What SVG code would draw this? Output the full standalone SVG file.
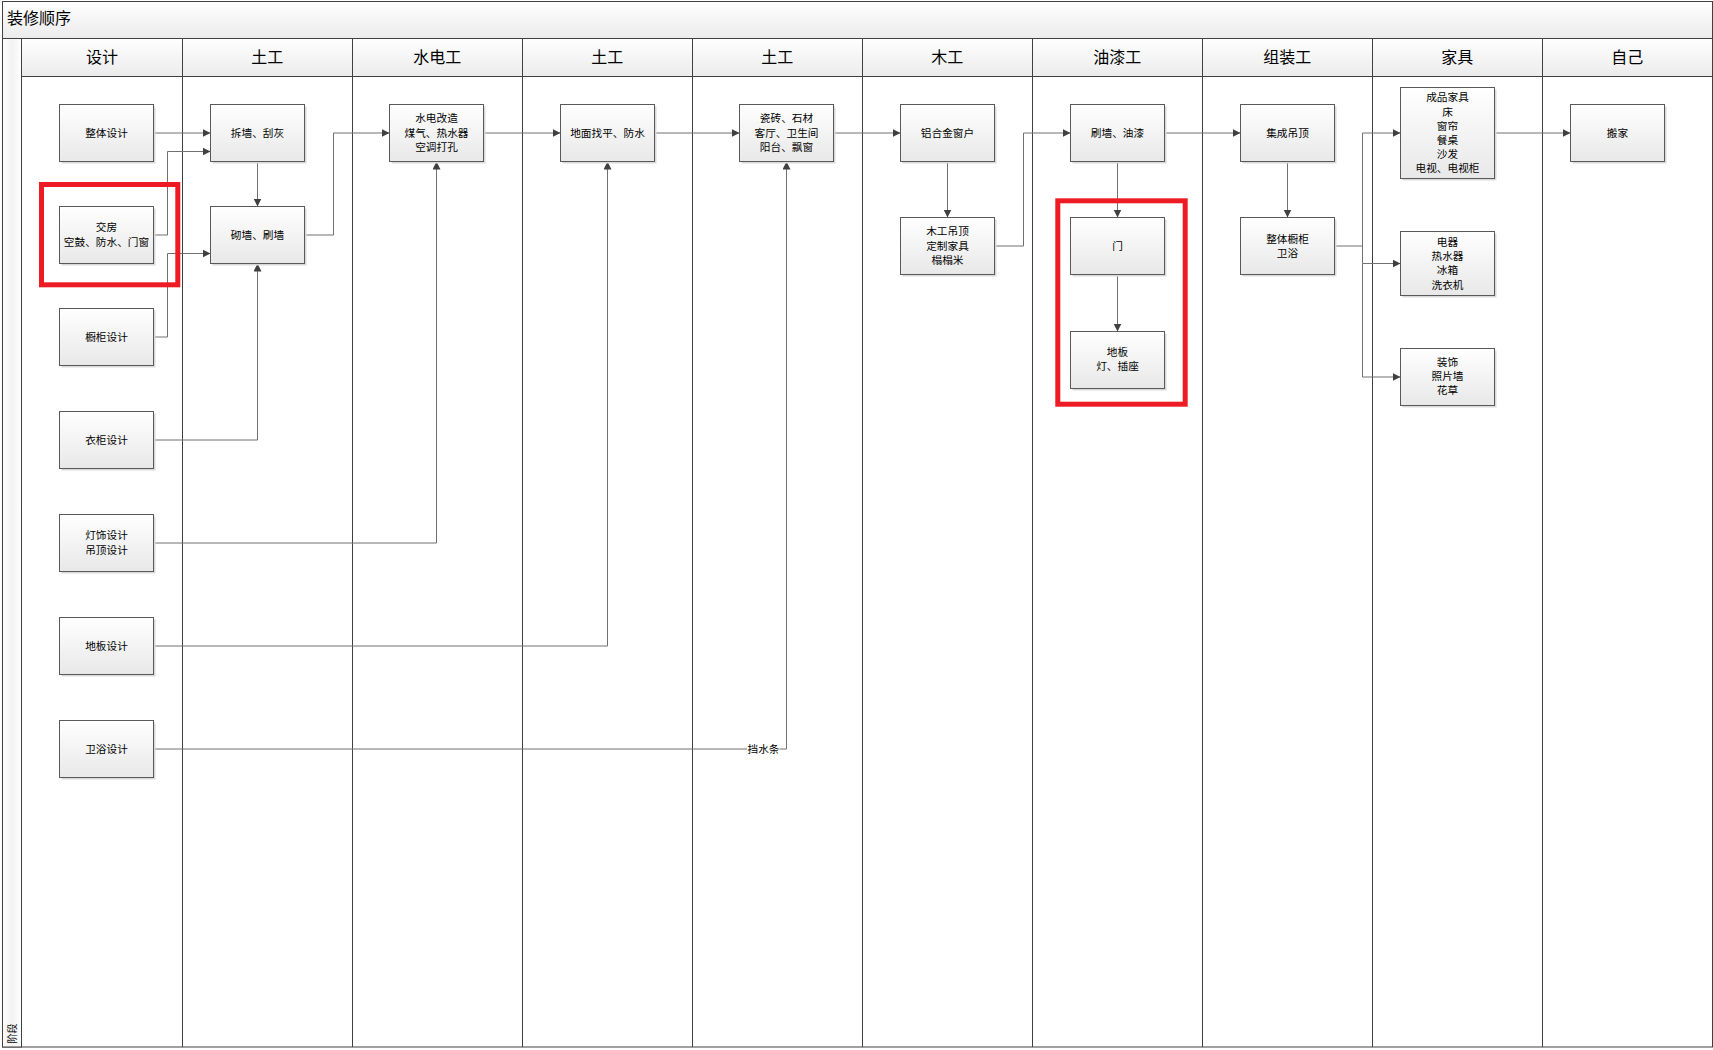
<svg xmlns="http://www.w3.org/2000/svg" width="1713" height="1050" viewBox="0 0 1713 1050">
<defs>
<linearGradient id="gNode" x1="0" y1="0" x2="0" y2="1"><stop offset="0" stop-color="#ffffff"/><stop offset="1" stop-color="#e8e8e8"/></linearGradient>
<linearGradient id="gHead" x1="0" y1="0" x2="0" y2="1"><stop offset="0" stop-color="#ffffff"/><stop offset="1" stop-color="#ebebeb"/></linearGradient>
<linearGradient id="gStrip" x1="0" y1="0" x2="1" y2="0"><stop offset="0" stop-color="#ffffff"/><stop offset="0.5" stop-color="#f2f2f2"/><stop offset="1" stop-color="#ffffff"/></linearGradient>
<marker id="arr" markerUnits="userSpaceOnUse" markerWidth="9" markerHeight="9" refX="8" refY="4" orient="auto"><path d="M0,0 L8,4 L0,8 z" fill="#404040"/></marker>
</defs>
<style>
text{font-family:"Noto Sans CJK SC","Noto Sans",sans-serif;fill:#000}
.t{font-size:10.67px;text-anchor:middle}
.h{font-size:16px;text-anchor:middle}
.ttl{font-size:16px}
.box{fill:url(#gNode);stroke:#595959;stroke-width:1}
.sh{fill:#d9d9d9}
.lane{stroke:#404040;stroke-width:1;fill:none}
.c{fill:none;stroke:#707070;stroke-width:1}
.ca{fill:none;stroke:#707070;stroke-width:1;marker-end:url(#arr)}
.red{fill:none;stroke:#ed1c24;stroke-width:5}
</style>
<g id="pool">
<rect x="2.5" y="1.5" width="1710" height="1045.5" fill="#ffffff" class="lane"/>
<rect x="2.5" y="1.5" width="1710" height="37" fill="url(#gHead)" class="lane" style="fill:url(#gHead)"/>
<text class="ttl" x="7" y="24">装修顺序</text>
<rect x="2.5" y="38.5" width="19" height="1008.5" class="lane" style="fill:url(#gStrip)"/>
<text style="font-size:10px;text-anchor:middle" transform="translate(16,1033.5) rotate(-90)">阶段</text>
<rect x="21.5" y="38.5" width="1691" height="38" class="lane" style="fill:url(#gHead)"/>
<path class="lane" d="M182.5,38.5V1047M352.5,38.5V1047M522.5,38.5V1047M692.5,38.5V1047M862.5,38.5V1047M1032.5,38.5V1047M1202.5,38.5V1047M1372.5,38.5V1047M1542.5,38.5V1047"/>
<text class="h" x="102" y="63">设计</text>
<text class="h" x="267.3" y="63">土工</text>
<text class="h" x="437.3" y="63">水电工</text>
<text class="h" x="607.3" y="63">土工</text>
<text class="h" x="777.3" y="63">土工</text>
<text class="h" x="947.3" y="63">木工</text>
<text class="h" x="1117.3" y="63">油漆工</text>
<text class="h" x="1287.3" y="63">组装工</text>
<text class="h" x="1457.3" y="63">家具</text>
<text class="h" x="1627.3" y="63">自己</text>
</g>
<g id="connectors">
<path class="ca" d="M153.5,133H210.5"/>
<path class="ca" d="M153.5,235H167.5V151.5H210.5"/>
<path class="ca" d="M153.5,337H167.5V253.5H210.5"/>
<path class="ca" d="M153.5,440H257.5V263.5"/>
<path class="ca" d="M257.5,161.5V206.5"/>
<path class="ca" d="M304.5,235H333.5V133H389.5"/>
<path class="ca" d="M153.5,543H436.5V161.5"/>
<path class="ca" d="M483.5,133H560.5"/>
<path class="ca" d="M153.5,646H607.5V161.5"/>
<path class="ca" d="M654.5,133H739.5"/>
<path class="ca" d="M153.5,749H786.5V161.5"/>
<rect x="747" y="742" width="32.5" height="13" fill="#ffffff"/>
<text class="t" x="763.5" y="752.5">挡水条</text>
<path class="ca" d="M833.5,133H900.5"/>
<path class="ca" d="M947.5,161.5V217.5"/>
<path class="ca" d="M994.5,246H1023.5V133H1070.5"/>
<path class="ca" d="M1117.5,161.5V217.5"/>
<path class="ca" d="M1117.5,274.5V331.5"/>
<path class="ca" d="M1164.5,133H1240.5"/>
<path class="ca" d="M1287.5,161.5V217.5"/>
<path class="ca" d="M1334.5,246H1362.5V133H1400.5"/>
<path class="ca" d="M1362.5,246V263.5H1400.5"/>
<path class="ca" d="M1362.5,263.5V377H1400.5"/>
<path class="ca" d="M1494.5,133H1570.5"/>
</g>
<g id="n1"><rect class="sh" x="61.5" y="106.5" width="94" height="57"/><rect class="box" x="59.5" y="104.5" width="94" height="57"/><text class="t" x="106.5" y="136.8">整体设计</text></g>
<g id="n2"><rect class="sh" x="61.5" y="208.5" width="94" height="57"/><rect class="box" x="59.5" y="206.5" width="94" height="57"/><text class="t" x="106.5" y="231.3">交房</text><text class="t" x="106.5" y="245.9">空鼓、防水、门窗</text></g>
<g id="n3"><rect class="sh" x="61.5" y="310.5" width="94" height="57"/><rect class="box" x="59.5" y="308.5" width="94" height="57"/><text class="t" x="106.5" y="340.8">橱柜设计</text></g>
<g id="n4"><rect class="sh" x="61.5" y="413.5" width="94" height="57"/><rect class="box" x="59.5" y="411.5" width="94" height="57"/><text class="t" x="106.5" y="443.8">衣柜设计</text></g>
<g id="n5"><rect class="sh" x="61.5" y="516.5" width="94" height="57"/><rect class="box" x="59.5" y="514.5" width="94" height="57"/><text class="t" x="106.5" y="538.8">灯饰设计</text><text class="t" x="106.5" y="553.5">吊顶设计</text></g>
<g id="n6"><rect class="sh" x="61.5" y="619.5" width="94" height="57"/><rect class="box" x="59.5" y="617.5" width="94" height="57"/><text class="t" x="106.5" y="649.5">地板设计</text></g>
<g id="n7"><rect class="sh" x="61.5" y="722.5" width="94" height="57"/><rect class="box" x="59.5" y="720.5" width="94" height="57"/><text class="t" x="106.5" y="752.5">卫浴设计</text></g>
<g id="n8"><rect class="sh" x="212.5" y="106.5" width="94" height="57"/><rect class="box" x="210.5" y="104.5" width="94" height="57"/><text class="t" x="257.5" y="136.8">拆墙、刮灰</text></g>
<g id="n9"><rect class="sh" x="212.5" y="208.5" width="94" height="57"/><rect class="box" x="210.5" y="206.5" width="94" height="57"/><text class="t" x="257.5" y="238.6">砌墙、刷墙</text></g>
<g id="n10"><rect class="sh" x="391.5" y="106.5" width="94" height="57"/><rect class="box" x="389.5" y="104.5" width="94" height="57"/><text class="t" x="436.5" y="122.1">水电改造</text><text class="t" x="436.5" y="136.6">煤气、热水器</text><text class="t" x="436.5" y="151.1">空调打孔</text></g>
<g id="n11"><rect class="sh" x="562.5" y="106.5" width="94" height="57"/><rect class="box" x="560.5" y="104.5" width="94" height="57"/><text class="t" x="607.5" y="136.8">地面找平、防水</text></g>
<g id="n12"><rect class="sh" x="741.5" y="106.5" width="94" height="57"/><rect class="box" x="739.5" y="104.5" width="94" height="57"/><text class="t" x="786.5" y="122.1">瓷砖、石材</text><text class="t" x="786.5" y="136.6">客厅、卫生间</text><text class="t" x="786.5" y="151.1">阳台、飘窗</text></g>
<g id="n13"><rect class="sh" x="902.5" y="106.5" width="94" height="57"/><rect class="box" x="900.5" y="104.5" width="94" height="57"/><text class="t" x="947.5" y="136.8">铝合金窗户</text></g>
<g id="n14"><rect class="sh" x="902.5" y="219.5" width="94" height="57"/><rect class="box" x="900.5" y="217.5" width="94" height="57"/><text class="t" x="947.5" y="235.3">木工吊顶</text><text class="t" x="947.5" y="249.8">定制家具</text><text class="t" x="947.5" y="264.3">榻榻米</text></g>
<g id="n15"><rect class="sh" x="1072.5" y="106.5" width="94" height="57"/><rect class="box" x="1070.5" y="104.5" width="94" height="57"/><text class="t" x="1117.5" y="136.8">刷墙、油漆</text></g>
<g id="n16"><rect class="sh" x="1072.5" y="219.5" width="94" height="57"/><rect class="box" x="1070.5" y="217.5" width="94" height="57"/><text class="t" x="1117.5" y="249.8">门</text></g>
<g id="n17"><rect class="sh" x="1072.5" y="333.5" width="94" height="57"/><rect class="box" x="1070.5" y="331.5" width="94" height="57"/><text class="t" x="1117.5" y="356.1">地板</text><text class="t" x="1117.5" y="369.5">灯、插座</text></g>
<g id="n18"><rect class="sh" x="1242.5" y="106.5" width="94" height="57"/><rect class="box" x="1240.5" y="104.5" width="94" height="57"/><text class="t" x="1287.5" y="136.8">集成吊顶</text></g>
<g id="n19"><rect class="sh" x="1242.5" y="219.5" width="94" height="57"/><rect class="box" x="1240.5" y="217.5" width="94" height="57"/><text class="t" x="1287.5" y="243.1">整体橱柜</text><text class="t" x="1287.5" y="257.1">卫浴</text></g>
<g id="n20"><rect class="sh" x="1402.5" y="89.5" width="94" height="91"/><rect class="box" x="1400.5" y="87.5" width="94" height="91"/><text class="t" x="1447.5" y="101.4">成品家具</text><text class="t" x="1447.5" y="115.5">床</text><text class="t" x="1447.5" y="129.6">窗帘</text><text class="t" x="1447.5" y="143.7">餐桌</text><text class="t" x="1447.5" y="157.8">沙发</text><text class="t" x="1447.5" y="171.9">电视、电视柜</text></g>
<g id="n21"><rect class="sh" x="1402.5" y="233.5" width="94" height="64"/><rect class="box" x="1400.5" y="231.5" width="94" height="64"/><text class="t" x="1447.5" y="245.5">电器</text><text class="t" x="1447.5" y="259.8">热水器</text><text class="t" x="1447.5" y="274.1">冰箱</text><text class="t" x="1447.5" y="288.5">洗衣机</text></g>
<g id="n22"><rect class="sh" x="1402.5" y="350.5" width="94" height="57"/><rect class="box" x="1400.5" y="348.5" width="94" height="57"/><text class="t" x="1447.5" y="366.1">装饰</text><text class="t" x="1447.5" y="379.8">照片墙</text><text class="t" x="1447.5" y="394.1">花草</text></g>
<g id="n23"><rect class="sh" x="1572.5" y="106.5" width="94" height="57"/><rect class="box" x="1570.5" y="104.5" width="94" height="57"/><text class="t" x="1617.5" y="136.8">搬家</text></g>
<g id="highlights">
<rect class="red" x="41.5" y="184.5" width="136.3" height="100.3"/>
<rect class="red" x="1057.8" y="200.8" width="127.4" height="203.4"/>
</g>
</svg>
